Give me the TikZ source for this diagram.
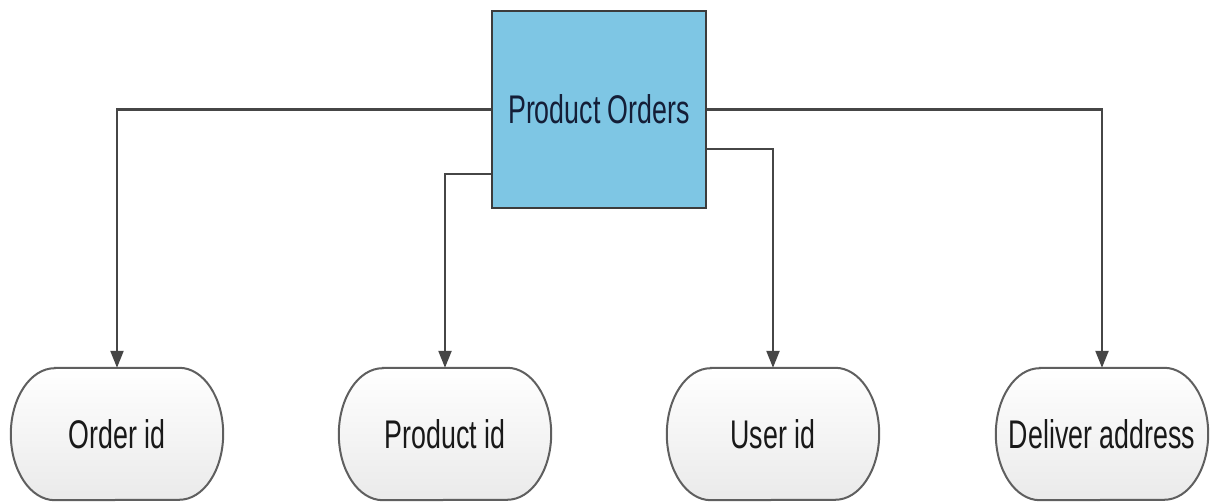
\documentclass[tikz,border=0pt]{standalone}
\usepackage{fontspec}
\setmainfont{Liberation Sans}[FakeStretch=0.67]
\usetikzlibrary{arrows.meta,backgrounds}

\definecolor{boxblue}{RGB}{126,198,228}
\definecolor{boxedge}{RGB}{60,60,60}
\definecolor{linegray}{RGB}{70,70,70}
\definecolor{termedge}{RGB}{95,95,95}
\definecolor{termshade}{RGB}{234,234,234}
\definecolor{titleink}{RGB}{20,30,55}

\tikzset{
  entity/.style={rectangle, draw=boxedge, line width=2.4pt, fill=boxblue,
    minimum width=214pt, minimum height=197pt, inner sep=0pt,
    text=titleink, font=\fontsize{40}{44}\selectfont},
  attrib/.style={rectangle, draw=none, minimum width=212pt, minimum height=132pt,
    inner sep=0pt, text=black!90, font=\fontsize{40}{44}\selectfont},
  termshape/.style={draw=termedge, line width=2pt, top color=white, bottom color=termshade},
  conn/.style={draw=linegray, line width=2.3pt,
    -{Triangle[length=17pt,width=13pt]}}
}

\begin{document}
\begin{tikzpicture}[x=1pt,y=1pt]
  \useasboundingbox (0,0) rectangle (1211,502);

  % central entity
  \node[entity] (po) at (599,392.5) {Product Orders};

  % attribute terminals
  \node[attrib] (oid)  at (117,68)  {Order id};
  \node[attrib] (pid)  at (445,68)  {Product id};
  \node[attrib] (uid)  at (773,68)  {User id};
  \node[attrib] (addr) at (1102,68) {Deliver address};

  % terminal outlines: flat top and bottom, elliptical ends
  \begin{scope}[on background layer]
    \foreach \n in {oid,pid,uid,addr}{
      \path[termshape]
        ([xshift=44pt]\n.north west) -- ([xshift=-44pt]\n.north east)
        arc[start angle=90, end angle=-90, x radius=44pt, y radius=66pt]
        -- ([xshift=44pt]\n.south west)
        arc[start angle=270, end angle=90, x radius=44pt, y radius=66pt]
        -- cycle;
    }
  \end{scope}

  % connectors
  \draw[conn] (po.west) -| (oid.north);
  \draw[conn] ([yshift=-64.5pt]po.west) -| (pid.north);
  \draw[conn] ([yshift=-39.5pt]po.east) -| (uid.north);
  \draw[conn] (po.east) -| (addr.north);
\end{tikzpicture}
\end{document}
